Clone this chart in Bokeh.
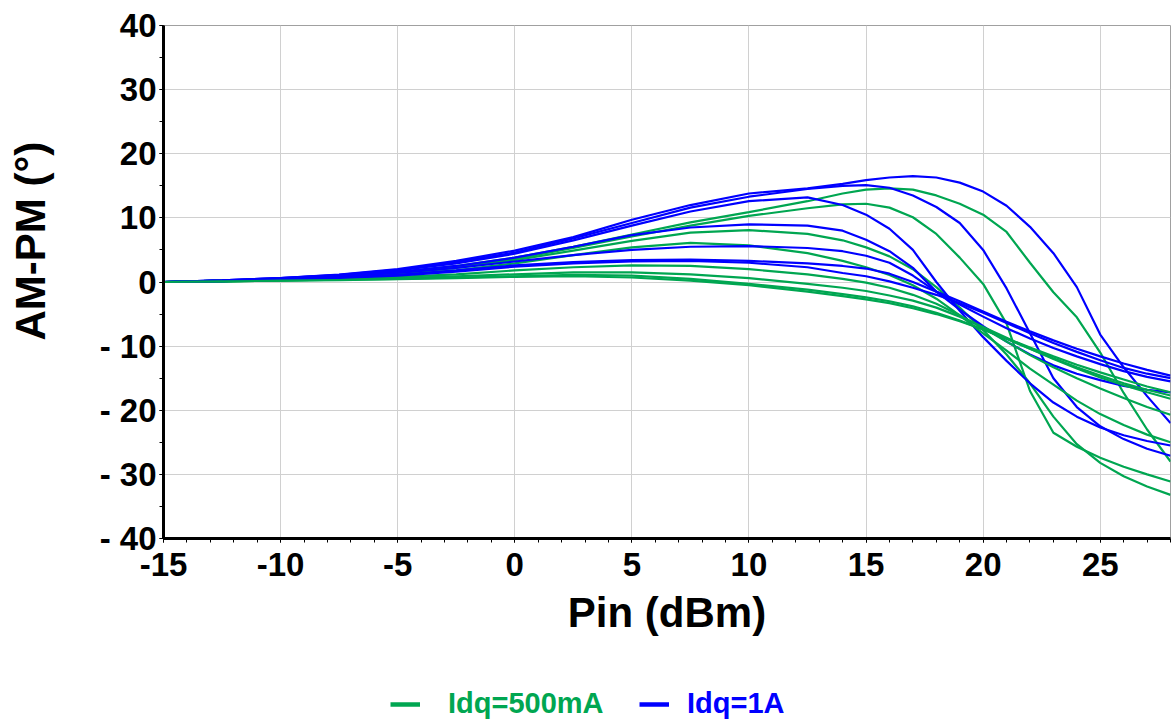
from bokeh.plotting import figure
from bokeh.models import Range1d, Legend, LegendItem, FixedTicker
from bokeh.layouts import column
from bokeh.embed import file_html
from bokeh.resources import INLINE

# ---------------- data ----------------
pin_dbm = [-15, -12.5, -10, -7.5, -5, -2.5, 0, 2.5, 5, 7.5, 10, 12.5, 14, 15, 16, 17,
           18, 19, 20, 21, 22, 23, 24, 25, 26, 27, 28]

# Idq = 500 mA (green)
g1 = [0, 0.2, 0.5, 0.9, 1.5, 2.5, 3.8, 5.5, 7.4, 9.3, 10.9, 12.6, 13.8, 14.4, 14.6, 14.4,
      13.5, 12.2, 10.5, 7.8, 3.0, -1.6, -5.5, -11.0, -17.3, -23.0, -28.0]
g2 = [0, 0.2, 0.5, 0.85, 1.4, 2.3, 3.6, 5.3, 7.1, 8.8, 10.3, 11.5, 12.1, 12.2, 11.6, 10.1,
      7.5, 3.8, -0.3, -6.5, -17.0, -23.5, -25.7, -27.4, -28.8, -30.0, -31.1]
g3 = [0, 0.2, 0.4, 0.8, 1.3, 2.2, 3.4, 4.9, 6.4, 7.7, 8.1, 7.5, 6.5, 5.4, 4.0, 2.0,
      -0.8, -4.0, -7.5, -11.3, -15.8, -21.0, -25.3, -28.2, -30.3, -31.9, -33.2]
g4 = [0, 0.15, 0.4, 0.7, 1.1, 1.8, 2.9, 4.2, 5.4, 6.1, 5.7, 4.5, 3.3, 2.3, 1.1, -0.5,
      -2.6, -5.2, -8.0, -10.7, -13.5, -16.0, -18.5, -20.6, -22.3, -23.8, -25.0]
g5 = [0, 0.1, 0.3, 0.5, 0.8, 1.2, 1.8, 2.3, 2.6, 2.5, 2.0, 1.2, 0.5, -0.1, -0.9, -2.0,
      -3.4, -5.2, -7.2, -9.3, -11.4, -13.3, -15.0, -16.6, -18.1, -19.5, -20.7]
g6 = [0, 0.1, 0.25, 0.4, 0.6, 0.9, 1.2, 1.5, 1.5, 1.2, 0.6, -0.3, -0.9, -1.4, -2.1, -2.9,
      -4.0, -5.4, -7.0, -8.7, -10.4, -12.0, -13.5, -14.9, -16.1, -17.2, -18.2]
g7 = [0, 0.1, 0.2, 0.35, 0.5, 0.7, 0.9, 1.1, 1.0, 0.5, -0.3, -1.2, -1.9, -2.4, -3.0, -3.8,
      -4.8, -6.0, -7.4, -8.9, -10.4, -11.9, -13.3, -14.6, -15.8, -16.8, -17.7]
g8 = [0, 0.1, 0.2, 0.3, 0.45, 0.6, 0.8, 0.9, 0.7, 0.2, -0.5, -1.5, -2.2, -2.7, -3.3, -4.1,
      -5.0, -6.1, -7.4, -8.8, -10.2, -11.6, -12.9, -14.1, -15.2, -16.3, -17.2]

# Idq = 1 A (blue)
b1 = [0, 0.25, 0.6, 1.15, 2.0, 3.3, 4.9, 7.0, 9.7, 12.0, 13.8, 14.6, 15.3, 15.9, 16.3, 16.5,
      16.3, 15.5, 14.1, 11.9, 8.6, 4.5, -0.8, -8.2, -13.3, -17.8, -22.0]
b2 = [0, 0.25, 0.6, 1.1, 1.9, 3.1, 4.6, 6.8, 9.2, 11.6, 13.3, 14.5, 15.0, 15.1, 14.7, 13.5,
      11.7, 9.2, 5.0, -1.0, -8.0, -15.0, -19.5, -22.5, -24.5, -26.0, -27.1]
b3 = [0, 0.25, 0.6, 1.05, 1.8, 2.9, 4.4, 6.5, 8.8, 11.0, 12.6, 13.2, 12.0, 10.5, 8.3, 5.0,
      0.0, -4.5, -8.6, -12.3, -15.8, -18.8, -21.0, -22.7, -23.9, -24.8, -25.5]
b4 = [0, 0.2, 0.5, 0.95, 1.6, 2.5, 3.8, 5.5, 7.3, 8.5, 9.0, 8.8, 8.0, 6.6, 4.8, 2.2,
      -1.5, -4.3, -6.9, -9.3, -11.3, -13.0, -14.3, -15.3, -16.2, -16.8, -17.2]
b5 = [0, 0.2, 0.45, 0.85, 1.4, 2.2, 3.2, 4.2, 5.0, 5.5, 5.6, 5.3, 4.8, 4.1, 3.0, 1.0,
      -1.5, -3.5, -5.4, -7.2, -8.8, -10.3, -11.6, -12.8, -13.9, -14.8, -15.5]
b6 = [0, 0.15, 0.4, 0.7, 1.1, 1.8, 2.6, 3.1, 3.4, 3.5, 3.3, 2.9, 2.5, 2.1, 1.3, 0.0,
      -1.5, -3.0, -4.6, -6.2, -7.7, -9.1, -10.4, -11.6, -12.7, -13.7, -14.6]
b7 = [0, 0.15, 0.35, 0.65, 1.0, 1.6, 2.4, 2.9, 3.2, 3.3, 3.0, 2.3, 1.4, 0.9, 0.1, -0.9,
      -2.0, -3.3, -4.8, -6.4, -8.0, -9.5, -10.9, -12.2, -13.4, -14.3, -15.0]

green_curves = [g1, g2, g3, g4, g5, g6, g7, g8]
blue_curves = [b1, b2, b3, b4, b5, b6, b7]
series_labels = ["Idq=500mA", "Idq=1A"]

x_ticks = [-15, -10, -5, 0, 5, 10, 15, 20, 25]
x_tick_labels = {-15: "-15", -10: "-10", -5: "-5"}
y_ticks = [-40, -30, -20, -10, 0, 10, 20, 30, 40]
y_tick_labels = {-40: "- 40", -30: "- 30", -20: "- 20", -10: "- 10", 0: "0",
                 10: "10", 20: "20", 30: "30", 40: "40"}

GREEN = "#00a651"
BLUE = "#0000ff"
FONT = "Liberation Sans"

# ---------------- main figure ----------------
p = figure(width=1171, height=660, x_range=Range1d(-15, 28), y_range=Range1d(-40, 40),
           output_backend="svg", toolbar_location=None,
           min_border_left=163, min_border_right=1, min_border_top=25, min_border_bottom=122)
p.background_fill_color = "white"
p.border_fill_color = "white"
p.outline_line_color = "#a0a0a0"
p.outline_line_width = 1

n = max(len(green_curves), len(blue_curves))
for i in range(n):
    if i < len(green_curves):
        p.line(pin_dbm, green_curves[i], line_color=GREEN, line_width=2.2)
    if i < len(blue_curves):
        p.line(pin_dbm, blue_curves[i], line_color=BLUE, line_width=2.2)

p.xaxis.ticker = FixedTicker(ticks=x_ticks, minor_ticks=list(range(-15, 29)))
p.yaxis.ticker = FixedTicker(ticks=y_ticks, minor_ticks=list(range(-40, 41, 5)))
p.xaxis.major_label_overrides = x_tick_labels
p.yaxis.major_label_overrides = y_tick_labels
for ax in (p.xaxis[0], p.yaxis[0]):
    ax.axis_line_color = "black"
    ax.axis_line_width = 3
    ax.major_tick_line_color = "black"
    ax.minor_tick_line_color = "black"
    ax.major_tick_in = 0
    ax.major_tick_out = 4
    ax.minor_tick_in = 0
    ax.minor_tick_out = 4
    ax.major_label_text_font = FONT
    ax.major_label_text_font_style = "bold"
    ax.major_label_text_font_size = "33px"
    ax.major_label_text_color = "black"
    ax.axis_label_text_font = FONT
    ax.axis_label_text_font_style = "bold"
    ax.axis_label_text_font_size = "42px"
    ax.axis_label_text_color = "black"
p.xaxis.major_label_standoff = 10
p.yaxis.major_label_standoff = 3

p.xaxis.axis_label = "Pin (dBm)"
p.xaxis.axis_label_standoff = 10
# leading no-break spaces lift the centred title like in the reference
p.yaxis.axis_label = "\u00a0" * 7 + "AM-PM (°)"
p.yaxis.axis_label_standoff = 43

p.xgrid.grid_line_color = "#d0d0d0"
p.ygrid.grid_line_color = "#d0d0d0"

# ---------------- legend strip ----------------
# the proxy lines lie outside this strip's ranges: only their legend swatches show
leg_fig = figure(width=1171, height=60, x_range=Range1d(100, 101), y_range=Range1d(100, 101),
                 output_backend="svg", toolbar_location=None,
                 x_axis_type=None, y_axis_type=None,
                 min_border_left=0, min_border_right=0, min_border_top=0, min_border_bottom=0)
leg_fig.outline_line_color = None
leg_fig.xgrid.visible = False
leg_fig.ygrid.visible = False
lg_green = leg_fig.line(pin_dbm, g1, line_color=GREEN, line_width=4.5)
lg_blue = leg_fig.line(pin_dbm, b1, line_color=BLUE, line_width=4.5)
for rend, lab, col, x0, stand in ((lg_green, series_labels[0], GREEN, 227, 28),
                                  (lg_blue, series_labels[1], BLUE, 476, 18)):
    leg = Legend(items=[LegendItem(label=lab, renderers=[rend])], location=(x0, 0),
                 orientation="horizontal", glyph_width=30, glyph_height=20,
                 label_standoff=stand, padding=0, margin=0, spacing=0,
                 border_line_color=None, background_fill_alpha=0,
                 label_text_font=FONT, label_text_font_style="bold",
                 label_text_font_size="29px", label_text_color=col)
    leg_fig.add_layout(leg)

layout = column(p, leg_fig, spacing=0)
open("out.html", "w").write(file_html(layout, INLINE))
